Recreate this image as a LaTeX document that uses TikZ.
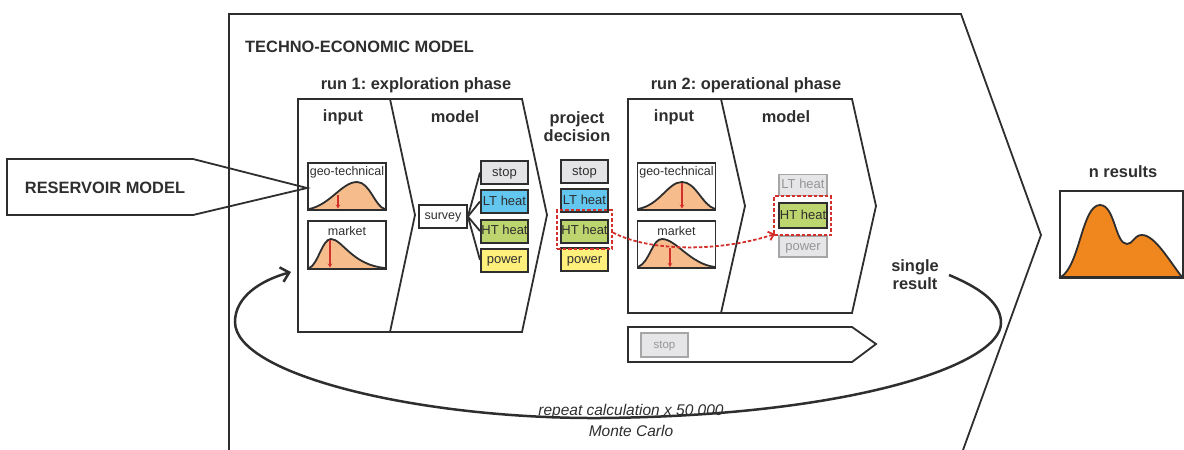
\documentclass[tikz,border=0pt]{standalone}
\usepackage{fontspec}
\setmainfont{Liberation Sans}
\usetikzlibrary{arrows.meta}
\frenchspacing
\definecolor{peach}{HTML}{F6BC8C}
\definecolor{dorange}{HTML}{F0861E}
\definecolor{ltblue}{HTML}{62C6EE}
\definecolor{htgreen}{HTML}{BDD56E}
\definecolor{pwyellow}{HTML}{FFF07C}
\definecolor{stopgray}{HTML}{E4E4E6}
\definecolor{lgray}{HTML}{A6A6A6}
\definecolor{lfill}{HTML}{E6E6E8}
\definecolor{dred}{HTML}{D3302C}
\definecolor{ink}{HTML}{2E2E2E}
\tikzset{
  frame/.style={draw=ink, line width=1.8pt, line join=miter},
  head/.style={font=\bfseries\fontsize{16.4}{19}\selectfont, text=ink, inner sep=0pt, align=center},
  optbox/.style={draw=ink, line width=2pt, minimum width=47pt, minimum height=23pt, inner sep=0pt,
    font=\fontsize{13}{13}\selectfont, text=ink, text height=9.5pt, text depth=2.5pt},
  grbox/.style={draw=lgray, fill=lfill, line width=1.8pt, minimum width=48pt, inner sep=0pt,
    font=\fontsize{13}{13}\selectfont, text=lgray!90!black, text height=9.5pt, text depth=2.5pt},
  distbox/.style={draw=ink, line width=1.8pt, minimum width=78pt, minimum height=47pt, inner sep=0pt},
  small/.style={font=\fontsize{12.5}{13}\selectfont, text=ink, inner sep=0pt},
  reddash/.style={draw=dred, line width=1.8pt, dash pattern=on 3.5pt off 2pt},
  redarrow/.style={draw=dred, line width=1.6pt, -{Stealth[length=4pt,width=4.5pt]}},
}
\begin{document}
\begin{tikzpicture}[x=1pt,y=-1pt]
\useasboundingbox (0,0) rectangle (1184,450);

% big techno-economic model
\draw[frame] (229,450) -- (229,14) -- (961,14) -- (1041,235) -- (963,450);
\node[head, anchor=west] (tem) at (245,47) {TECHNO-ECONOMIC MODEL};

% reservoir model arrow
\draw[frame] (7,159) -- (193,159) -- (307,188) -- (193,215) -- (7,215) -- cycle;
\node[head] (res) at (105,188) {RESERVOIR MODEL};

% run 1
\node[head] (run1) at (416,85) {run 1: exploration phase};
\draw[frame] (298,99) -- (522,99) -- (547,215) -- (522,332) -- (298,332) -- cycle;
\draw[frame] (390,99) -- (415,215) -- (390,332);
\node[head] (in1) at (343,117) {input};
\node[head] (mo1) at (455,117) {model};

% run 2
\node[head] (run2) at (746,85) {run 2: operational phase};
\draw[frame] (628,99) -- (852,99) -- (876,206) -- (852,313) -- (628,313) -- cycle;
\draw[frame] (721,99) -- (745,206) -- (721,313);
\node[head] (in2) at (674,117) {input};
\node[head] (mo2) at (786,117) {model};

% stop arrow
\draw[frame] (628,327) -- (852,327) -- (876,344) -- (852,362) -- (628,362) -- cycle;
\node[grbox, minimum width=47pt, minimum height=24pt, font=\fontsize{11.5}{12}\selectfont, text height=8.5pt, text depth=2pt] (stop3) at (664.5,345) {stop};

% project decision
\node[head] (pd) at (577,127) {project\\[-1pt]decision};

% run 1 distributions
\node[distbox] (geo1) at (347,186.5) {};
\fill[peach] (309,209) .. controls (330,205) and (342,182) .. (357,182) .. controls (370,182) and (375,207) .. (385,209) -- cycle;
\draw[ink, line width=1.8pt] (309,209) .. controls (330,205) and (342,182) .. (357,182) .. controls (370,182) and (375,207) .. (385,209);
\draw[redarrow] (338,195) -- (338,208.5);
\node[small] (geo1t) at (347,172) {geo-technical};
\node[distbox, minimum height=48pt] (mar1) at (347,245) {};
\fill[peach] (309,268) .. controls (318,265) and (322,239) .. (331,239) .. controls (342,239) and (352,265) .. (385,268) -- cycle;
\draw[ink, line width=1.8pt] (309,268) .. controls (318,265) and (322,239) .. (331,239) .. controls (342,239) and (352,265) .. (385,268);
\draw[redarrow] (330,240) -- (330,267.5);
\node[small] (mar1t) at (347,231) {market};
\node[distbox] at (347,186.5) {};
\node[distbox, minimum height=48pt] at (347,245) {};

% run 2 distributions
\node[distbox] (geo2) at (676.5,186.5) {};
\fill[peach] (638,209) .. controls (660,205) and (668,182) .. (682,182) .. controls (696,182) and (702,205) .. (715,209) -- cycle;
\draw[ink, line width=1.8pt] (638,209) .. controls (660,205) and (668,182) .. (682,182) .. controls (696,182) and (702,205) .. (715,209);
\draw[redarrow] (682,183) -- (682,208.5);
\node[small] (geo2t) at (676.5,172) {geo-technical};
\node[distbox] (mar2) at (676.5,244.5) {};
\fill[peach] (638,267) .. controls (650,262) and (652,239) .. (662,239) .. controls (676,239) and (690,264) .. (715,267) -- cycle;
\draw[ink, line width=1.8pt] (638,267) .. controls (650,262) and (652,239) .. (662,239) .. controls (676,239) and (690,264) .. (715,267);
\draw[redarrow] (670,248) -- (670,267);
\node[small] (mar2t) at (676.5,231) {market};
\node[distbox] at (676.5,186.5) {};
\node[distbox] at (676.5,244.5) {};

% run 1 model
\node[draw=ink, line width=1.8pt, minimum width=48pt, minimum height=23pt, inner sep=0pt, small, text height=9pt, text depth=2.5pt] (survey) at (443,216.5) {survey};
\node[optbox, fill=stopgray] (s1) at (504.5,172.5) {stop};
\node[optbox, fill=ltblue] (l1) at (504.5,201.5) {LT heat};
\node[optbox, fill=htgreen] (h1) at (504.5,231) {HT heat};
\node[optbox, fill=pwyellow] (p1) at (504.5,260) {power};
\foreach \b in {s1,l1,h1,p1} \draw[ink, line width=1.8pt] (survey.east) -- (\b.west);

% project decision options
\node[optbox, fill=stopgray] (s2) at (584.5,171.5) {stop};
\node[optbox, fill=ltblue] (l2) at (584.5,200.5) {LT heat};
\node[optbox, fill=htgreen] (h2) at (584.5,231) {HT heat};
\node[optbox, fill=pwyellow] (p2) at (584.5,259.5) {power};
\node[reddash, minimum width=55pt, minimum height=39pt, inner sep=0pt] (sel1) at (584.5,229.5) {};

% run 2 model options
\node[grbox, minimum height=21pt] (l3) at (803,185) {LT heat};
\node[grbox, minimum height=21pt] (p3) at (803,246.5) {power};
\node[optbox, fill=htgreen, minimum width=48pt, minimum height=25pt] (h3) at (803,215.5) {HT heat};
\node[reddash, minimum width=57pt, minimum height=39pt, inner sep=0pt] (sel2) at (802.5,215.5) {};

\coordinate (selend) at (775,234);
\draw[reddash, -{Straight Barb[length=5pt,width=9pt]}] (sel1.east) ++(0,3) .. controls (650,252) and (720,252) .. (selend);

% n results
\node[head] (nres) at (1123,172) {n results};
\filldraw[fill=dorange, draw=ink, line width=1.8pt] (1061,277) .. controls (1080,265) and (1082,205) .. (1100,205) .. controls (1115,205) and (1115,244) .. (1127,244) .. controls (1133,244) and (1134,235) .. (1142,235) .. controls (1155,235) and (1170,262) .. (1182,277) -- cycle;
\node[draw=ink, line width=1.8pt, minimum width=123pt, minimum height=87pt, inner sep=0pt] (nbox) at (1121.5,234.5) {};

% single result and loop
\node[head] (single) at (915,275) {single\\[-1pt]result};
\coordinate (loopstart) at (949,275);
\coordinate (looptip) at (291,272);
\draw[ink, line width=2.5pt, -{Straight Barb[length=8pt,width=15pt]}]
  (loopstart) .. controls (985,290) and (1001,305) .. (1001,323)
  .. controls (1001,365) and (850,416) .. (600,418)
  .. controls (420,419) and (235,375) .. (235,322)
  .. controls (235,296) and (262,280) .. (looptip);
\node[font=\itshape\fontsize{15.5}{17}\selectfont, text=ink, inner sep=0pt] (rep) at (631,411) {repeat calculation x 50 000};
\node[font=\itshape\fontsize{15.5}{17}\selectfont, text=ink, inner sep=0pt] (mc) at (631,431) {Monte Carlo};
\end{tikzpicture}
\end{document}
